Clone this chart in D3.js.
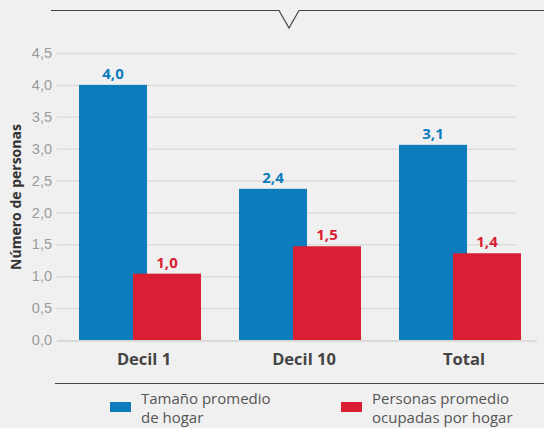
<!DOCTYPE html>
<html>
<head>
<meta charset="utf-8">
<script src="https://cdn.jsdelivr.net/npm/d3@7"></script>
<style>
  body { margin: 0; background: #f0f0f0; }
  svg { display: block; font-family: "Open Sans", "Noto Sans", sans-serif; }
</style>
</head>
<body>
<div id="chart"></div>
<script>
// datos
const categorias = ["Decil 1", "Decil 10", "Total"];
const tamanoHogar = [4.0, 2.37, 3.06];
const ocupadosHogar = [1.04, 1.47, 1.36];
const yTicks = [0, 0.5, 1, 1.5, 2, 2.5, 3, 3.5, 4, 4.5];
const series = ["Tamaño promedio de hogar", "Personas promedio ocupadas por hogar"];
const leyendaLineas = [["Tamaño promedio", "de hogar"], ["Personas promedio", "ocupadas por hogar"]];
const colores = ["#0c7cbc", "#da1e34"];

const W = 544, H = 428;
const svg = d3.select("#chart").append("svg")
    .attr("width", W)
    .attr("height", H);

svg.append("rect").attr("width", W).attr("height", H).attr("fill", "#f0f0f0");

// linea superior con muesca
svg.append("path")
    .attr("d", "M51,10.5H279L289,28L299,10.5H544")
    .attr("fill", "none")
    .attr("stroke", "#444")
    .attr("stroke-width", 1.2);

const y = d3.scaleLinear().domain([0, 4.5]).range([340, 53]);
const x = d3.scaleBand().domain(categorias)
    .range([57, 545])
    .paddingInner(0.225)
    .paddingOuter(0.1375);

const barW = 68, offset = 54;

// cuadricula
svg.append("g")
    .attr("transform", "translate(57,0)")
    .call(d3.axisLeft(y).tickValues(yTicks).tickSize(-459)
        .tickFormat(d => d3.format(".1f")(d).replace(".", ",")))
    .call(g => g.select(".domain").remove())
    .call(g => g.selectAll(".tick line").attr("stroke", "#dcdcdc").attr("stroke-width", 1.5))
    .call(g => g.selectAll(".tick text")
        .attr("x", -5)
        .attr("fill", "#9a9a9a")
        .attr("font-size", 14.5));

// barras
const datos = categorias.map((c, i) => ({cat: c, vals: [tamanoHogar[i], ocupadosHogar[i]]}));
const grupos = svg.selectAll(".grupo").data(datos).enter().append("g")
    .attr("transform", d => `translate(${x(d.cat)},0)`);

grupos.selectAll("rect").data(d => d.vals).enter().append("rect")
    .attr("x", (v, i) => i * offset)
    .attr("y", v => y(v))
    .attr("width", barW)
    .attr("height", v => y(0) - y(v))
    .attr("fill", (v, i) => colores[i]);

grupos.selectAll(".valor").data(d => d.vals).enter().append("text")
    .attr("x", (v, i) => i * offset + barW / 2)
    .attr("y", v => y(v) - 6)
    .attr("text-anchor", "middle")
    .attr("font-size", 15)
    .attr("font-weight", "bold")
    .attr("fill", (v, i) => colores[i])
    .text(v => d3.format(".1f")(v).replace(".", ","));

// eje x
svg.append("line")
    .attr("x1", 57).attr("x2", 537)
    .attr("y1", 341).attr("y2", 341)
    .attr("stroke", "#d6d6d6").attr("stroke-width", 1.5);

svg.selectAll(".cat").data(categorias).enter().append("text")
    .attr("x", d => x(d) + (barW + offset) / 2 + 4)
    .attr("y", 365)
    .attr("text-anchor", "middle")
    .attr("font-size", 16.5)
    .attr("font-weight", "bold")
    .attr("fill", "#444")
    .text(d => d);

// titulo eje y
svg.append("text")
    .attr("transform", "translate(21,197) rotate(-90)")
    .attr("text-anchor", "middle")
    .attr("font-size", 14)
    .attr("font-weight", "bold")
    .attr("fill", "#333")
    .text("Número de personas");

// leyenda
svg.append("line")
    .attr("x1", 55).attr("x2", 544)
    .attr("y1", 383.5).attr("y2", 383.5)
    .attr("stroke", "#444").attr("stroke-width", 1.2);

const leg = svg.selectAll(".leg").data(series).enter().append("g")
    .attr("transform", (d, i) => `translate(${110 + i * 231},0)`);
leg.append("rect")
    .attr("y", 402).attr("width", 21).attr("height", 10)
    .attr("fill", (d, i) => colores[i]);
leg.append("text")
    .attr("x", 31)
    .attr("font-size", 15)
    .attr("fill", "#555")
    .selectAll("tspan").data((d, i) => leyendaLineas[i]).enter().append("tspan")
    .attr("x", 31)
    .attr("y", (t, j) => 404 + j * 19)
    .text(t => t);
</script>
</body>
</html>
